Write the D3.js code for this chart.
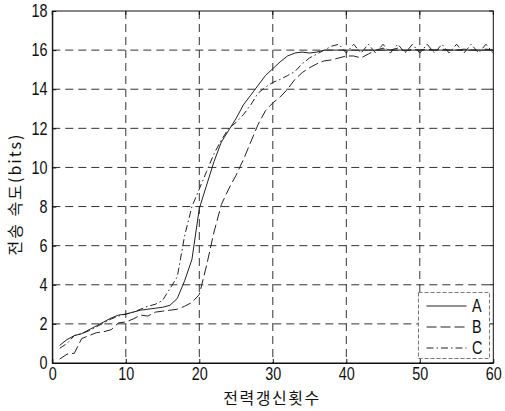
<!DOCTYPE html>
<html>
<head>
<meta charset="utf-8">
<script src="https://cdn.jsdelivr.net/npm/d3@7"></script>
<style>
  html, body { margin: 0; padding: 0; background: #fff; }
  svg { display: block; }
</style>
</head>
<body>
<svg id="chart" width="505" height="411"></svg>
<script>
const xValues = d3.range(1, 61);
const seriesA = [0.9,1.2,1.4,1.5,1.7,1.9,2.1,2.3,2.45,2.5,2.6,2.7,2.75,2.8,2.85,2.95,3.3,4.2,5.3,7.9,
  9.1,10.3,11.3,11.9,12.5,13.2,13.7,14.2,14.7,15.05,15.4,15.7,15.85,15.9,15.85,15.9,16.0,16.0,16.0,16.0,
  16.0,16.0,16.0,16.0,16.0,16.0,16.0,16.0,16.0,16.0,16.0,16.0,16.0,16.0,16.0,16.0,16.0,16.0,16.0,16.0];
const seriesB = [0.2,0.45,0.5,1.25,1.4,1.55,1.6,1.7,2.05,2.1,2.25,2.45,2.4,2.6,2.65,2.7,2.75,2.9,3.1,3.5,
  5.0,6.7,8.1,8.9,9.6,10.4,11.3,12.2,12.9,13.3,13.6,14.0,14.5,14.85,15.1,15.3,15.45,15.5,15.6,15.7,
  15.7,15.6,15.8,16.0,16.1,16.0,16.1,15.95,16.05,16.0,16.05,16.0,16.05,16.0,16.0,16.05,16.0,16.0,16.05,16.0];
const seriesC = [0.75,1.0,1.4,1.5,1.65,1.85,2.05,2.25,2.4,2.5,2.6,2.75,2.9,3.0,3.2,3.8,4.4,6.5,8.0,8.9,
  9.8,10.7,11.4,12.0,12.3,12.7,13.2,13.8,14.1,14.35,14.5,14.7,14.9,15.3,15.6,15.8,16.0,16.2,16.3,15.85,
  16.3,15.85,16.3,15.85,16.3,15.85,16.3,15.85,16.3,15.85,16.3,15.85,16.3,15.85,16.3,15.85,16.3,15.85,16.3,15.85];
const seriesNames = ["A", "B", "C"];
const xTicks = [0, 10, 20, 30, 40, 50, 60];
const yTicks = [0, 2, 4, 6, 8, 10, 12, 14, 16, 18];
const xLabel = "전력갱신횟수";
const yLabel = "전송 속도(bits)";

const svg = d3.select("#chart");
const W = 505, H = 411;
const m = { left: 52.3, right: 11.7, top: 11, bottom: 48 };
const x = d3.scaleLinear().domain([0, 60]).range([m.left, W - m.right]);
const y = d3.scaleLinear().domain([0, 18]).range([H - m.bottom, m.top]);

const latin = "'Liberation Sans', Arial, Helvetica, sans-serif";
const kr = "'Noto Sans CJK KR', sans-serif";
const narrow = "scale(0.8,1)";

// grid
const grid = svg.append("g").attr("stroke", "#333").attr("stroke-width", 1)
  .attr("stroke-dasharray", "8,5").attr("fill", "none");
xTicks.slice(1, -1).forEach(t => {
  grid.append("line").attr("x1", x(t)).attr("x2", x(t))
    .attr("y1", y(18)).attr("y2", y(0));
});
yTicks.slice(1, -1).forEach(t => {
  grid.append("line").attr("x1", x(0)).attr("x2", x(60))
    .attr("y1", y(t)).attr("y2", y(t));
});

// axes
const xAxis = d3.axisBottom(x).tickValues(xTicks).tickSizeInner(-4).tickSizeOuter(0).tickPadding(4);
const yAxis = d3.axisLeft(y).tickValues(yTicks).tickSizeInner(-4).tickSizeOuter(0).tickPadding(6);
const gx = svg.append("g").attr("transform", `translate(0,${y(0)})`).call(xAxis);
const gy = svg.append("g").attr("transform", `translate(${x(0)},0)`).call(yAxis);
[gx, gy].forEach(g => {
  g.select(".domain").attr("stroke", "#111");
  g.selectAll(".tick line").attr("stroke", "#111");
  g.selectAll("text").attr("font-family", latin).attr("font-size", 18).attr("fill", "#111")
    .attr("transform", narrow);
});
// top/right ticks
xTicks.forEach(t => svg.append("line").attr("x1", x(t)).attr("x2", x(t))
  .attr("y1", y(18)).attr("y2", y(18) + 4).attr("stroke", "#111"));
yTicks.forEach(t => svg.append("line").attr("x1", x(60)).attr("x2", x(60) - 4)
  .attr("y1", y(t)).attr("y2", y(t)).attr("stroke", "#111"));
// frame
svg.append("rect").attr("x", x(0)).attr("y", y(18)).attr("width", x(60) - x(0))
  .attr("height", y(0) - y(18)).attr("fill", "none").attr("stroke", "#111").attr("stroke-width", 1);

// lines
const styles = { A: null, B: "10,4", C: "7,3,1.5,3" };
const data = { A: seriesA, B: seriesB, C: seriesC };
const line = d3.line().x((d, i) => x(xValues[i])).y(d => y(d));
seriesNames.forEach(n => {
  svg.append("path").datum(data[n]).attr("d", line).attr("fill", "none")
    .attr("stroke", "#222").attr("stroke-width", 1)
    .attr("stroke-dasharray", styles[n]);
});

// legend
const lg = svg.append("g");
lg.append("rect").attr("x", 418.5).attr("y", 292.5).attr("width", 71).attr("height", 66)
  .attr("fill", "#fff").attr("stroke", "#777").attr("stroke-width", 1).attr("stroke-dasharray", "4,2");
seriesNames.forEach((n, i) => {
  const ly = 306 + i * 21;
  lg.append("line").attr("x1", 426.5).attr("x2", 466.5).attr("y1", ly).attr("y2", ly)
    .attr("stroke", "#222").attr("stroke-width", 1).attr("stroke-dasharray", styles[n]);
  lg.append("text").attr("transform", `translate(472,${ly}) ${narrow}`).attr("dy", "0.36em")
    .attr("font-family", latin).attr("font-size", 18).attr("fill", "#111").text(n);
});

// axis labels
svg.append("text").attr("x", 272).attr("y", 404).attr("text-anchor", "middle")
  .attr("font-family", kr).attr("font-size", 16).attr("letter-spacing", 1.5)
  .attr("fill", "#111").text(xLabel);
svg.append("text").attr("transform", "translate(21,194) rotate(-90)").attr("text-anchor", "middle")
  .attr("font-family", kr).attr("font-size", 16).attr("letter-spacing", 2)
  .attr("fill", "#111").text(yLabel);
</script>
</body>
</html>
